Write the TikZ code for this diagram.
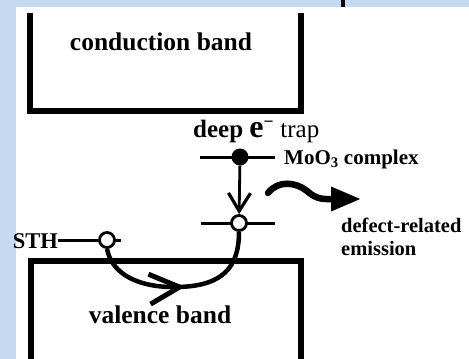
\documentclass[tikz,border=0pt]{standalone}
\usepackage{fontspec}
\setmainfont{Liberation Serif}
\usetikzlibrary{arrows.meta,decorations.markings}
\definecolor{bgblue}{HTML}{C6D9F1}
\begin{document}
\begin{tikzpicture}[x=1pt,y=-1pt,
  band/.style={line width=6pt},
  level/.style={line width=3pt},
  big/.style={font=\bfseries\fontsize{25.5}{30}\selectfont, inner sep=0pt},
  small/.style={font=\bfseries\fontsize{20.5}{24}\selectfont, inner sep=0pt},
  mid/.style={font=\bfseries\fontsize{22.5}{26}\selectfont, inner sep=0pt},
  hole/.style={circle, draw, fill=white, line width=2.8pt, inner sep=0pt, minimum size=15pt},
  full/.style={circle, fill, inner sep=0pt, minimum size=17pt}]
\useasboundingbox (0,0) rectangle (469,359);
\fill[bgblue] (0,0) rectangle (469,359);
\fill[white] (16,7) rectangle (469,359);
\fill[black] (341,0) rectangle (345,7);
% bands
\draw[band] (30,13) -- (30,110.5) -- (300.5,110.5) -- (300.5,13);
\draw[band] (31,359) -- (31,261) -- (301,261) -- (301,359);
\node[big, anchor=base] (cb) at (161,50) {conduction band};
\node[big, anchor=base] (vb) at (160,323) {valence band};
% deep trap level
\coordinate (t1) at (200,157); \coordinate (t2) at (275,157);
\draw[level] (t1) -- (t2);
\node[full] (trap) at (240,157) {};
\coordinate (d1) at (201,223); \coordinate (d2) at (275,223);
\draw[level] (d1) -- (d2);
\node[hole] (h2) at (239,223) {};
\draw[line width=2.8pt, -{Straight Barb[length=18pt,width=22pt,line width=3.2pt]}] (trap) -- (h2);
% STH
\node[mid, anchor=base east] (sth) at (58,248) {STH};
\coordinate (s2) at (121,240);
\draw[level] (sth.east |- s2) -- (s2);
\node[hole] (h1) at (107,240) {};
% recombination curve
\draw[line width=4.5pt,
  postaction={decorate},
  decoration={markings, mark=at position 0.52 with {\arrow{Straight Barb[length=30pt,width=30pt,line width=5pt]}}}]
  (h1.south) .. controls (112,275) and (140,288) .. (178,287)
  .. controls (222,286) and (239,268) .. (h2.south);
% wavy emission arrow
\coordinate (w1) at (268,193); \coordinate (w2) at (361,199);
\draw[line width=6.5pt, line cap=round, -{Triangle[length=30pt,width=23pt]}]
  (w1) .. controls (278,180) and (296,182) .. (307,191)
  .. controls (317,200) and (324,199) .. (w2);
% labels
\node[font=\fontsize{25}{30}\selectfont, inner sep=0pt, anchor=base west] (deep) at (193,137)
  {\bfseries deep {\fontsize{32}{32}\selectfont e}\textsuperscript{\bfseries −} \mdseries trap};
\node[font=\bfseries\fontsize{21}{25}\selectfont, inner sep=0pt, anchor=base west] (mo) at (284,164) {MoO\textsubscript{3} complex};
\node[small, anchor=base west] (dr) at (341,232) {defect-related};
\node[small, anchor=base west] (em) at (341,255) {emission};
\end{tikzpicture}
\end{document}
